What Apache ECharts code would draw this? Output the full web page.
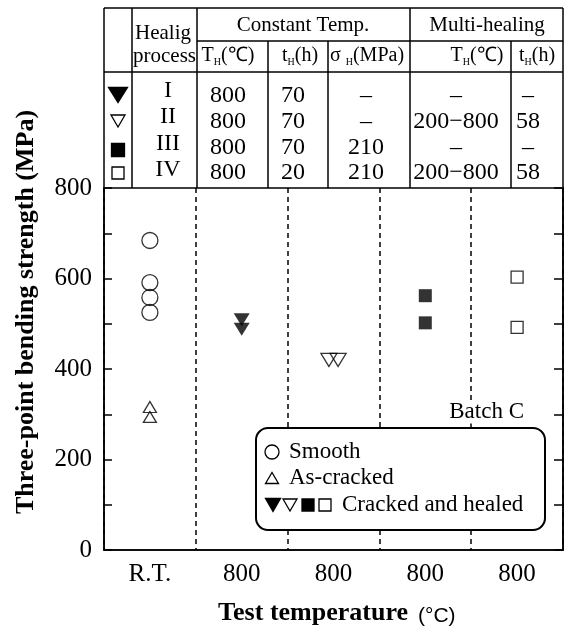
<!DOCTYPE html>
<html><head><meta charset="utf-8">
<script src="https://cdn.jsdelivr.net/npm/echarts@6/dist/echarts.min.js"></script>
<style>html,body{margin:0;padding:0;background:#fff}#c{width:565px;height:634px}</style>
</head><body><div id="c"></div>
<script>
// ---------- data ----------
const categories = ['R.T.', '800', '800', '800', '800'];
const yTickLabels = [0, 200, 400, 600, 800];
const smoothX = [0, 0, 0, 0];
const smoothY = [684, 591, 558, 525];
const asCrackedX = [0, 0];
const asCrackedY = [316, 294];
const healedIX = [1, 1];
const healedIY = [509, 488];
const healedIIX = [1.95, 2.05];
const healedIIY = [420, 420];
const healedIIIX = [3, 3];
const healedIIIY = [562, 502];
const healedIVX = [4, 4];
const healedIVY = [603, 492];
// table contents
const tableProcess = ['I', 'II', 'III', 'IV'];
const tableTH = ['800', '800', '800', '800'];
const tableTime = ['70', '70', '70', '20'];
const tableStress = ['\u2013', '\u2013', '210', '210'];
const tableMultiTH = ['\u2013', '200\u2212800', '\u2013', '200\u2212800'];
const tableMultiTime = ['\u2013', '58', '\u2013', '58'];
const legendLabels = ['Smooth', 'As-cracked', 'Cracked and healed'];

// ---------- helpers ----------
const SERIF = "'Liberation Serif', 'Times New Roman', serif";
const pts = (xs, ys) => xs.map((x, i) => [x, ys[i]]);
const G = [];
function line(x1, y1, x2, y2, w) {
  G.push({type: 'line', z: 100, shape: {x1, y1, x2, y2}, style: {stroke: '#000', lineWidth: w || 1.5}});
}
function txt(x, y, text, size, align, extra) {
  G.push({type: 'text', z: 101, x, y, style: Object.assign({text, font: size + 'px ' + SERIF, fill: '#000', textAlign: align || 'center', textVerticalAlign: 'middle'}, extra || {})});
}
function tri(cx, cy, w, h, down, filled) {
  const p = down ? [[cx - w / 2, cy - h / 2], [cx + w / 2, cy - h / 2], [cx, cy + h / 2]]
                 : [[cx - w / 2, cy + h / 2], [cx + w / 2, cy + h / 2], [cx, cy - h / 2]];
  G.push({type: 'polygon', z: 101, shape: {points: p}, style: {fill: filled ? '#000' : 'none', stroke: '#000', lineWidth: 1.3}});
}
function sq(cx, cy, s, filled) {
  G.push({type: 'rect', z: 101, shape: {x: cx - s / 2, y: cy - s / 2, width: s, height: s}, style: {fill: filled ? '#000' : 'none', stroke: '#000', lineWidth: 1.3}});
}
function circ(cx, cy, r) {
  G.push({type: 'circle', z: 101, shape: {cx, cy, r}, style: {fill: 'none', stroke: '#000', lineWidth: 1.3}});
}

// ---------- table ----------
const L = 104, R = 563, T = 8, B = 188;
line(L, T, R, T); line(L, T, L, B); line(R, T, R, B);
line(197, 41, R, 41);
line(L, 72, R, 72);
line(132, T, 132, B); line(197, T, 197, B); line(410, T, 410, B);
line(268, 41, 268, B); line(328, 41, 328, B); line(511, 41, 511, B);
txt(303, 25, 'Constant Temp.', 21);
txt(487, 25, 'Multi-healing', 21);
txt(135, 33, 'Healig', 21, 'left');
txt(133, 56, 'process', 21, 'left');
const subRich = {m: {fontSize: 20, fontFamily: SERIF, lineHeight: 22, verticalAlign: 'middle'},
                 s: {fontSize: 10, fontFamily: SERIF, lineHeight: 22, verticalAlign: 'bottom'}};
function sub(x, y, main, rest) {
  G.push({type: 'text', z: 101, x, y, style: {text: '{m|' + main + '}{s|H}{m|' + rest + '}', rich: subRich, fill: '#000', textAlign: 'center', textVerticalAlign: 'middle'}});
}
sub(228, 56, 'T', '(\u2103)');
sub(300, 56, 't', '(h)');
sub(367, 56, '\u03c3 ', '(MPa)');
sub(477, 56, 'T', '(\u2103)');
sub(537, 56, 't', '(h)');
const rowY = [96, 122, 148, 173];
const romanY = [91, 117, 144, 170];
tri(118, 95, 19, 15, true, true);
tri(118, 121, 14, 12, true, false);
sq(118, 150, 13, true);
sq(118, 173, 12, false);
tableProcess.forEach((t, i) => txt(168, romanY[i], t, 24));
tableTH.forEach((t, i) => txt(228, rowY[i], t, 24));
tableTime.forEach((t, i) => txt(293, rowY[i], t, 24));
tableStress.forEach((t, i) => txt(366, rowY[i], t, 24));
tableMultiTH.forEach((t, i) => txt(456, rowY[i], t, 24));
tableMultiTime.forEach((t, i) => txt(528, rowY[i], t, 24));

// ---------- legend box ----------
G.push({type: 'rect', z: 100, shape: {x: 256, y: 428, width: 289, height: 102, r: 12}, style: {fill: '#fff', stroke: '#000', lineWidth: 2}});
circ(272, 452, 7);
tri(272, 478, 13, 11, false, false);
tri(273, 505, 15, 13, true, true);
tri(290, 505, 14, 12, true, false);
sq(308, 505, 12, true);
sq(325, 505, 12, false);
txt(289, 452, legendLabels[0], 23, 'left');
txt(289, 478, legendLabels[1], 23, 'left');
txt(342, 505, legendLabels[2], 23, 'left');
txt(526, 412, 'Batch C', 23, 'right', {backgroundColor: '#fff', padding: [0, 2]});

// ---------- axis titles ----------
G.push({type: 'text', z: 101, x: 26, y: 312, rotation: Math.PI / 2,
  style: {text: 'Three-point bending strength (MPa)', font: 'bold 26px ' + SERIF, fill: '#000', textAlign: 'center', textVerticalAlign: 'middle'}});
G.push({type: 'text', z: 101, x: 408, y: 613,
  style: {text: 'Test temperature', font: 'bold 26px ' + SERIF, fill: '#000', textAlign: 'right', textVerticalAlign: 'middle'}});
G.push({type: 'text', z: 101, x: 418, y: 616,
  style: {text: '(\u00b0C)', font: "21px 'Liberation Sans', Arial, sans-serif", fill: '#000', textAlign: 'left', textVerticalAlign: 'middle'}});

// ---------- chart ----------
const chart = echarts.init(document.getElementById('c'), null, {renderer: 'canvas'});
const emptyStyle = {color: 'rgba(0,0,0,0)', borderColor: '#000', borderWidth: 1.3};
const fullStyle = {color: '#000', borderColor: '#000', borderWidth: 0};
chart.setOption({
  animation: false,
  backgroundColor: '#fff',
  grid: {left: L, right: 565 - R, top: B, bottom: 634 - 550, show: true, borderColor: '#000', borderWidth: 1.5},
  xAxis: [
    {type: 'category', data: categories, boundaryGap: true,
     axisLine: {onZero: false, lineStyle: {color: '#000', width: 1.5}}, axisTick: {show: false},
     axisLabel: {color: '#000', fontFamily: SERIF, fontSize: 25, margin: 12},
     splitLine: {show: true, lineStyle: {color: '#000', type: [5, 4], width: 1.5}}},
    {type: 'value', min: -0.5, max: 4.5, show: false}
  ],
  yAxis: [
    {type: 'value', min: 0, max: 800, interval: 100, position: 'left',
     axisLine: {show: true, onZero: false, lineStyle: {color: '#000', width: 1.5}},
     axisTick: {show: true, inside: true, length: 8, lineStyle: {color: '#000', width: 1.5}},
     axisLabel: {color: '#000', fontFamily: SERIF, fontSize: 25, margin: 12,
       formatter: v => (yTickLabels.indexOf(v) >= 0 ? String(v) : '')},
     splitLine: {show: false}},
    {type: 'value', min: 0, max: 800, interval: 100, position: 'right',
     axisLine: {show: true, onZero: false, lineStyle: {color: '#000', width: 1.5}},
     axisTick: {show: true, inside: true, length: 9, lineStyle: {color: '#000', width: 1.5}},
     axisLabel: {show: false}, splitLine: {show: false}}
  ],
  series: [
    {type: 'scatter', name: 'Smooth', xAxisIndex: 1, data: pts(smoothX, smoothY), symbol: 'circle', symbolSize: 16, itemStyle: emptyStyle},
    {type: 'scatter', name: 'As-cracked', xAxisIndex: 1, data: pts(asCrackedX, asCrackedY), symbol: 'triangle', symbolSize: [13, 11], itemStyle: emptyStyle},
    {type: 'scatter', name: 'I', xAxisIndex: 1, data: pts(healedIX, healedIY), symbol: 'triangle', symbolRotate: 180, symbolSize: [16, 13], itemStyle: fullStyle},
    {type: 'scatter', name: 'II', xAxisIndex: 1, data: pts(healedIIX, healedIIY), symbol: 'triangle', symbolRotate: 180, symbolSize: [16, 13], itemStyle: emptyStyle},
    {type: 'scatter', name: 'III', xAxisIndex: 1, data: pts(healedIIIX, healedIIIY), symbol: 'rect', symbolSize: 13, itemStyle: fullStyle},
    {type: 'scatter', name: 'IV', xAxisIndex: 1, data: pts(healedIVX, healedIVY), symbol: 'rect', symbolSize: 12, itemStyle: emptyStyle}
  ],
  graphic: G
});
</script>
</body></html>
